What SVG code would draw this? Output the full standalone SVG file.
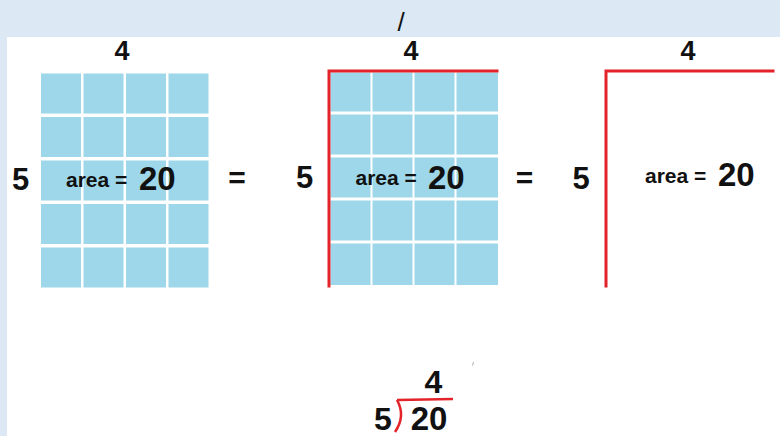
<svg xmlns="http://www.w3.org/2000/svg" width="780" height="436" viewBox="0 0 780 436">
<style>
.bg{fill:#dce8f4}
.c{fill:#9dd7e9}
.red{stroke:#e3222a;stroke-width:3;fill:none;stroke-linecap:square}
.t{font-family:"Liberation Sans",Arial,sans-serif;font-weight:bold;fill:#111}
.n{font-family:"Liberation Sans",Arial,sans-serif;font-weight:bold;font-size:27px;fill:#111;text-anchor:middle}
.d{font-size:31px;text-anchor:middle}
.a{font-size:21px}
.b{font-size:33px}
.eq{font-size:30px;text-anchor:middle}
</style>
<rect x="0" y="0" width="780" height="436" fill="#ffffff"/>
<rect class="bg" x="0" y="0" width="780" height="37"/>
<rect class="bg" x="0" y="37" width="7" height="399"/>
<text x="401" y="31" font-family="Liberation Sans,Arial,sans-serif" font-size="26" text-anchor="middle" fill="#111">/</text>

<g id="panel1">
<rect class="c" x="41" y="73.5" width="40" height="40"/><rect class="c" x="83.5" y="73.5" width="40" height="40"/><rect class="c" x="126" y="73.5" width="40" height="40"/><rect class="c" x="168.5" y="73.5" width="40" height="40"/>
<rect class="c" x="41" y="117" width="40" height="40"/><rect class="c" x="83.5" y="117" width="40" height="40"/><rect class="c" x="126" y="117" width="40" height="40"/><rect class="c" x="168.5" y="117" width="40" height="40"/>
<rect class="c" x="41" y="160.5" width="40" height="40"/><rect class="c" x="83.5" y="160.5" width="40" height="40"/><rect class="c" x="126" y="160.5" width="40" height="40"/><rect class="c" x="168.5" y="160.5" width="40" height="40"/>
<rect class="c" x="41" y="204" width="40" height="40"/><rect class="c" x="83.5" y="204" width="40" height="40"/><rect class="c" x="126" y="204" width="40" height="40"/><rect class="c" x="168.5" y="204" width="40" height="40"/>
<rect class="c" x="41" y="247.5" width="40" height="40"/><rect class="c" x="83.5" y="247.5" width="40" height="40"/><rect class="c" x="126" y="247.5" width="40" height="40"/><rect class="c" x="168.5" y="247.5" width="40" height="40"/>
<text class="n" x="122" y="60">4</text>
<text class="t d" x="20.5" y="190">5</text>
<text class="t a" x="66" y="187">area =</text>
<text class="t b" x="139" y="190">20</text>
</g>
<text class="t eq" x="237" y="188">=</text>

<g id="panel2">
<rect class="c" x="330.5" y="72.5" width="40" height="39"/><rect class="c" x="372.5" y="72.5" width="40" height="39"/><rect class="c" x="414.5" y="72.5" width="40" height="39"/><rect class="c" x="456.5" y="72.5" width="41.5" height="39"/>
<rect class="c" x="330.5" y="114.5" width="40" height="40"/><rect class="c" x="372.5" y="114.5" width="40" height="40"/><rect class="c" x="414.5" y="114.5" width="40" height="40"/><rect class="c" x="456.5" y="114.5" width="41.5" height="40"/>
<rect class="c" x="330.5" y="157.5" width="40" height="40"/><rect class="c" x="372.5" y="157.5" width="40" height="40"/><rect class="c" x="414.5" y="157.5" width="40" height="40"/><rect class="c" x="456.5" y="157.5" width="41.5" height="40"/>
<rect class="c" x="330.5" y="200.5" width="40" height="40"/><rect class="c" x="372.5" y="200.5" width="40" height="40"/><rect class="c" x="414.5" y="200.5" width="40" height="40"/><rect class="c" x="456.5" y="200.5" width="41.5" height="40"/>
<rect class="c" x="330.5" y="243.5" width="40" height="41.5"/><rect class="c" x="372.5" y="243.5" width="40" height="41.5"/><rect class="c" x="414.5" y="243.5" width="40" height="41.5"/><rect class="c" x="456.5" y="243.5" width="41.5" height="41.5"/>
<path class="red" d="M329 286 V71 H497"/>
<text class="n" x="411" y="60">4</text>
<text class="t d" x="304.5" y="188">5</text>
<text class="t a" x="355.5" y="185">area =</text>
<text class="t b" x="428" y="188.5">20</text>
</g>
<text class="t eq" x="524.5" y="188">=</text>

<g id="panel3">
<path class="red" d="M606 286 V71 H773"/>
<text class="n" x="688" y="60">4</text>
<text class="t d" x="581" y="189">5</text>
<text class="t a" x="645" y="183">area =</text>
<text class="t b" x="718" y="186">20</text>
</g>

<g id="division">
<text class="t" x="433.5" y="393" font-size="32" text-anchor="middle">4</text>
<text class="t" x="383" y="430" font-size="32" text-anchor="middle">5</text>
<text class="t" x="429" y="430" font-size="33" text-anchor="middle">20</text>
<path d="M397 400 Q406 416 395 432" stroke="#e3222a" stroke-width="2.5" fill="none"/>
<line x1="397" y1="400" x2="453" y2="399" stroke="#e3222a" stroke-width="2.5"/>
<line x1="473.5" y1="362" x2="472.5" y2="365.5" stroke="#999" stroke-width="0.8"/>
</g>
</svg>
